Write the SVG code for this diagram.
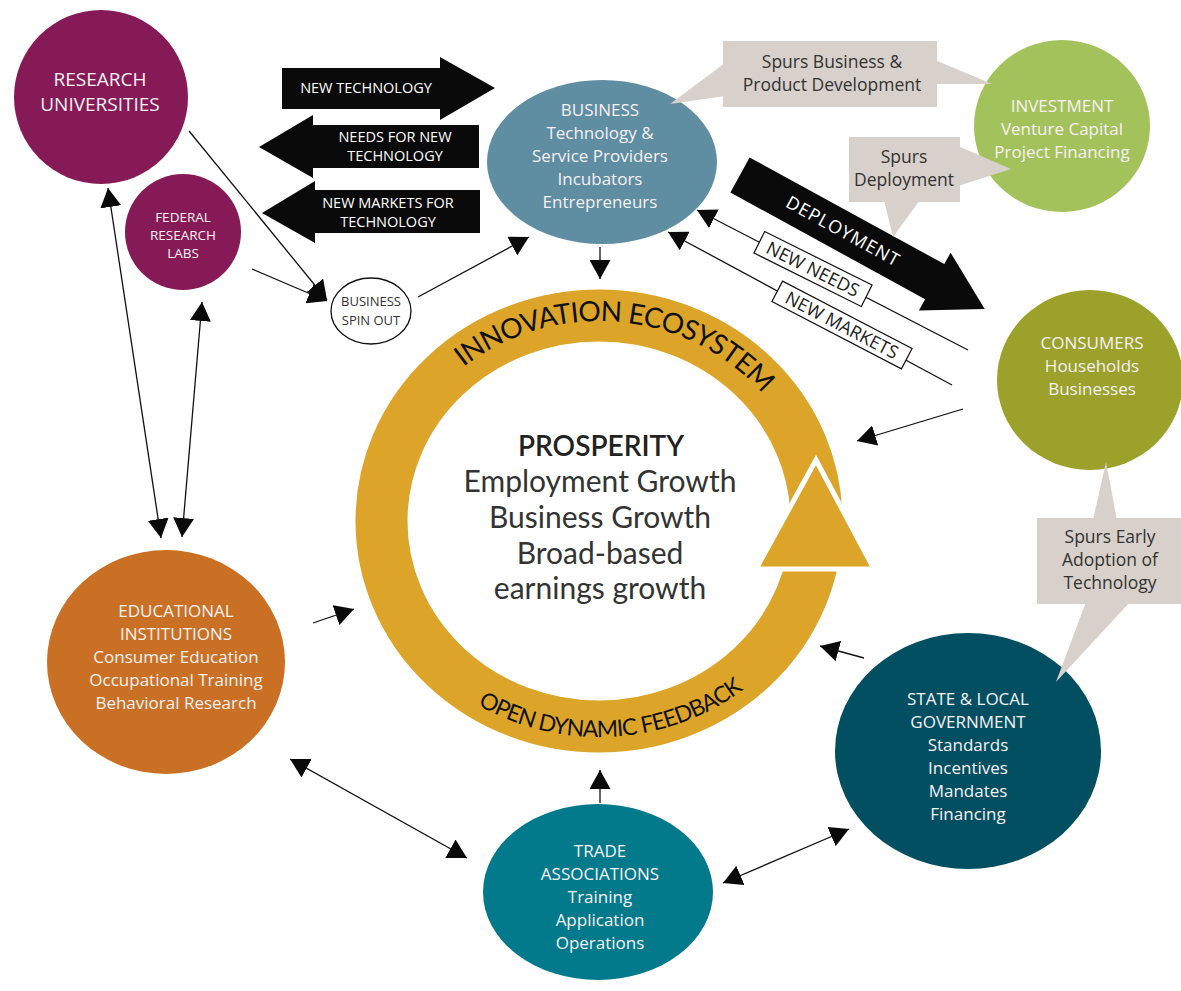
<svg xmlns="http://www.w3.org/2000/svg" width="1181" height="991" viewBox="0 0 1181 991">
  <style>
    text { font-family: "Open Sans", "Liberation Sans", sans-serif; }
    .serif-free { font-family: "Lato", "Open Sans", "Liberation Sans", sans-serif; }
    .node-label { fill: #F6F1F3; font-size: 17px; text-anchor: middle; }
    .big-label { font-size: 19px; }
    .small-label { font-size: 13.5px; }
    .block { fill: #0A0A0A; }
    .block-label { fill: #FFFFFF; font-size: 14.5px; text-anchor: middle; }
    .callout { fill: #D8D0CA; }
    .callout-label { fill: #333333; font-size: 17.5px; text-anchor: middle; }
    .link { stroke: #111111; stroke-width: 1.3; fill: none; }
    .one-way { marker-end: url(#head); }
    .two-way { marker-start: url(#head); marker-end: url(#head); }
    .tag { fill: #FFFFFF; stroke: #111111; stroke-width: 1.2; }
    .tag-label { fill: #222222; font-size: 18px; text-anchor: middle; }
    .center-line { fill: #333333; font-size: 30px; text-anchor: middle; }
  </style>
  <defs>
    <marker id="head" viewBox="0 0 19 21" refX="19" refY="10.5" markerWidth="19" markerHeight="21" markerUnits="userSpaceOnUse" orient="auto-start-reverse">
      <path d="M0,0 L19,10.5 L0,21 z" fill="#0A0A0A"/>
    </marker>
    <!-- baselines for the ring captions -->
    <path id="arc-top" d="M387,521 A212,200 0 0 1 811,521"/>
    <path id="arc-bottom" d="M368,521 A231,216 0 0 0 830,521"/>
  </defs>

  <rect width="1181" height="991" fill="#FFFFFF"/>

  <!-- central ring -->
  <g id="ecosystem">
    <ellipse cx="599" cy="521" rx="217.5" ry="205.5" fill="none" stroke="#DCA52A" stroke-width="52"/>
    <polygon points="816,460 756,569 874,569" fill="#DCA52A" stroke="#FFFFFF" stroke-width="5"/>
    <text class="serif-free" font-size="28" fill="#111111"><textPath href="#arc-top" startOffset="53%" text-anchor="middle" textLength="330" lengthAdjust="spacing">INNOVATION ECOSYSTEM</textPath></text>
    <text class="serif-free" font-size="23" fill="#111111"><textPath href="#arc-bottom" startOffset="52%" text-anchor="middle" textLength="282" lengthAdjust="spacing">OPEN DYNAMIC FEEDBACK</textPath></text>
    <text class="serif-free" x="601" y="456" font-size="28" font-weight="600" fill="#222222" text-anchor="middle">PROSPERITY</text>
    <text class="center-line serif-free" x="600" y="492">Employment Growth</text>
    <text class="center-line serif-free" x="600" y="528">Business Growth</text>
    <text class="center-line serif-free" x="600" y="564">Broad-based</text>
    <text class="center-line serif-free" x="600" y="599">earnings growth</text>
  </g>

  <!-- connectors -->
  <g id="connectors">
    <line class="link one-way" x1="189" y1="131" x2="327" y2="300"/>
    <line class="link one-way" x1="252" y1="269" x2="327" y2="301"/>
    <line class="link one-way" x1="418" y1="297" x2="529" y2="237"/>
    <line class="link one-way" x1="600" y1="247" x2="600" y2="279"/>
    <line class="link two-way" x1="108" y1="188" x2="161" y2="538"/>
    <line class="link two-way" x1="202" y1="302" x2="182" y2="537"/>
    <line class="link one-way" x1="313" y1="623" x2="354" y2="609"/>
    <line class="link two-way" x1="290" y1="759" x2="467" y2="858"/>
    <line class="link one-way" x1="600" y1="803" x2="600" y2="770"/>
    <line class="link two-way" x1="723" y1="883" x2="849" y2="829"/>
    <line class="link one-way" x1="864" y1="658" x2="820" y2="646"/>
    <line class="link one-way" x1="963" y1="409" x2="857" y2="441"/>
    <line class="link one-way" x1="968" y1="350" x2="697" y2="210"/>
    <line class="link one-way" x1="952" y1="385" x2="668" y2="232"/>
    <g transform="translate(813,269) rotate(26.5)">
      <rect class="tag" x="-60" y="-12" width="120" height="24"/>
      <text class="tag-label" x="0" y="6.5">NEW NEEDS</text>
    </g>
    <g transform="translate(842,325) rotate(27.5)">
      <rect class="tag" x="-73" y="-11.5" width="146" height="23"/>
      <text class="tag-label" x="0" y="6.5">NEW MARKETS</text>
    </g>

    <!-- block arrows -->
    <g id="flow-new-technology">
      <polygon class="block" points="282,68 440,68 440,57 495,88 440,120 440,109 282,109"/>
      <text class="block-label" x="366" y="93">NEW TECHNOLOGY</text>
    </g>
    <g id="flow-needs">
      <polygon class="block" points="479,125 313,125 313,115 259,147 313,178 313,168 479,168"/>
      <text class="block-label" x="395" y="142">NEEDS FOR NEW</text>
      <text class="block-label" x="395" y="161">TECHNOLOGY</text>
    </g>
    <g id="flow-markets">
      <polygon class="block" points="480,190 315,190 315,181 262,213 315,243 315,233 480,233"/>
      <text class="block-label" x="388" y="208">NEW MARKETS FOR</text>
      <text class="block-label" x="388" y="227">TECHNOLOGY</text>
    </g>
    <g id="flow-deployment" transform="translate(740,175) rotate(28.7)">
      <polygon class="block" points="0,-20 222,-20 222,-33 279,0 222,33 222,20 0,20"/>
      <text x="117" y="6" fill="#FFFFFF" font-size="18" text-anchor="middle" textLength="126" lengthAdjust="spacing">DEPLOYMENT</text>
    </g>
  </g>

  <!-- nodes -->
  <g id="research-universities">
    <circle cx="101" cy="97" r="87" fill="#861A57"/>
    <text class="node-label big-label" x="100" y="86">RESEARCH</text>
    <text class="node-label big-label" x="100" y="111">UNIVERSITIES</text>
  </g>
  <g id="federal-labs">
    <circle cx="183" cy="232" r="58" fill="#861A57"/>
    <text class="node-label small-label" x="183" y="222">FEDERAL</text>
    <text class="node-label small-label" x="183" y="240">RESEARCH</text>
    <text class="node-label small-label" x="183" y="258">LABS</text>
  </g>
  <g id="business-spin-out">
    <ellipse cx="371" cy="311" rx="40" ry="33" fill="#FFFFFF" stroke="#111111" stroke-width="1.3"/>
    <text x="371" y="306" font-size="13" fill="#333333" text-anchor="middle">BUSINESS</text>
    <text x="371" y="325" font-size="13" fill="#333333" text-anchor="middle">SPIN OUT</text>
  </g>
  <g id="business">
    <ellipse cx="602" cy="162" rx="115" ry="82" fill="#5F8DA2"/>
    <text class="node-label" x="600" y="116">BUSINESS</text>
    <text class="node-label" x="600" y="139">Technology &amp;</text>
    <text class="node-label" x="600" y="162">Service Providers</text>
    <text class="node-label" x="600" y="185">Incubators</text>
    <text class="node-label" x="600" y="208">Entrepreneurs</text>
  </g>
  <g id="investment">
    <ellipse cx="1062" cy="126" rx="88" ry="86" fill="#A4C25B"/>
    <text class="node-label" x="1062" y="112">INVESTMENT</text>
    <text class="node-label" x="1062" y="135">Venture Capital</text>
    <text class="node-label" x="1062" y="158">Project Financing</text>
  </g>
  <g id="consumers">
    <ellipse cx="1090" cy="380" rx="93" ry="90" fill="#9BA12A"/>
    <text class="node-label" x="1092" y="349">CONSUMERS</text>
    <text class="node-label" x="1092" y="372">Households</text>
    <text class="node-label" x="1092" y="395">Businesses</text>
  </g>
  <g id="educational-institutions">
    <ellipse cx="166" cy="662" rx="119" ry="112" fill="#CA7024"/>
    <text class="node-label" x="176" y="617">EDUCATIONAL</text>
    <text class="node-label" x="176" y="640">INSTITUTIONS</text>
    <text class="node-label" x="176" y="663">Consumer Education</text>
    <text class="node-label" x="176" y="686">Occupational Training</text>
    <text class="node-label" x="176" y="709">Behavioral Research</text>
  </g>
  <g id="state-local-government">
    <ellipse cx="968" cy="751" rx="133" ry="118" fill="#034F62"/>
    <text class="node-label" x="968" y="705">STATE &amp; LOCAL</text>
    <text class="node-label" x="968" y="728">GOVERNMENT</text>
    <text class="node-label" x="968" y="751">Standards</text>
    <text class="node-label" x="968" y="774">Incentives</text>
    <text class="node-label" x="968" y="797">Mandates</text>
    <text class="node-label" x="968" y="820">Financing</text>
  </g>
  <g id="trade-associations">
    <ellipse cx="598" cy="892" rx="115" ry="88" fill="#037A8B"/>
    <text class="node-label" x="600" y="857">TRADE</text>
    <text class="node-label" x="600" y="880">ASSOCIATIONS</text>
    <text class="node-label" x="600" y="903">Training</text>
    <text class="node-label" x="600" y="926">Application</text>
    <text class="node-label" x="600" y="949">Operations</text>
  </g>

  <!-- speech-bubble notes -->
  <g id="note-product-development">
    <polygon class="callout" points="725,63 670,104 725,96"/>
    <polygon class="callout" points="935,60 992,84 935,84"/>
    <rect class="callout" x="723" y="41" width="214" height="66"/>
    <text class="callout-label" x="832" y="68">Spurs Business &amp;</text>
    <text class="callout-label" x="832" y="91">Product Development</text>
  </g>
  <g id="note-deployment">
    <polygon class="callout" points="958,146 1011,169 958,186"/>
    <polygon class="callout" points="884,200 920,200 893,237"/>
    <rect class="callout" x="849" y="137" width="111" height="65"/>
    <text class="callout-label" x="904" y="163">Spurs</text>
    <text class="callout-label" x="904" y="186">Deployment</text>
  </g>
  <g id="note-early-adoption">
    <polygon class="callout" points="1093,520 1106,462 1117,520"/>
    <polygon class="callout" points="1086,602 1130,602 1056,682"/>
    <rect class="callout" x="1037" y="518" width="144" height="86"/>
    <text class="callout-label" x="1110" y="543">Spurs Early</text>
    <text class="callout-label" x="1110" y="566">Adoption of</text>
    <text class="callout-label" x="1110" y="589">Technology</text>
  </g>
</svg>
